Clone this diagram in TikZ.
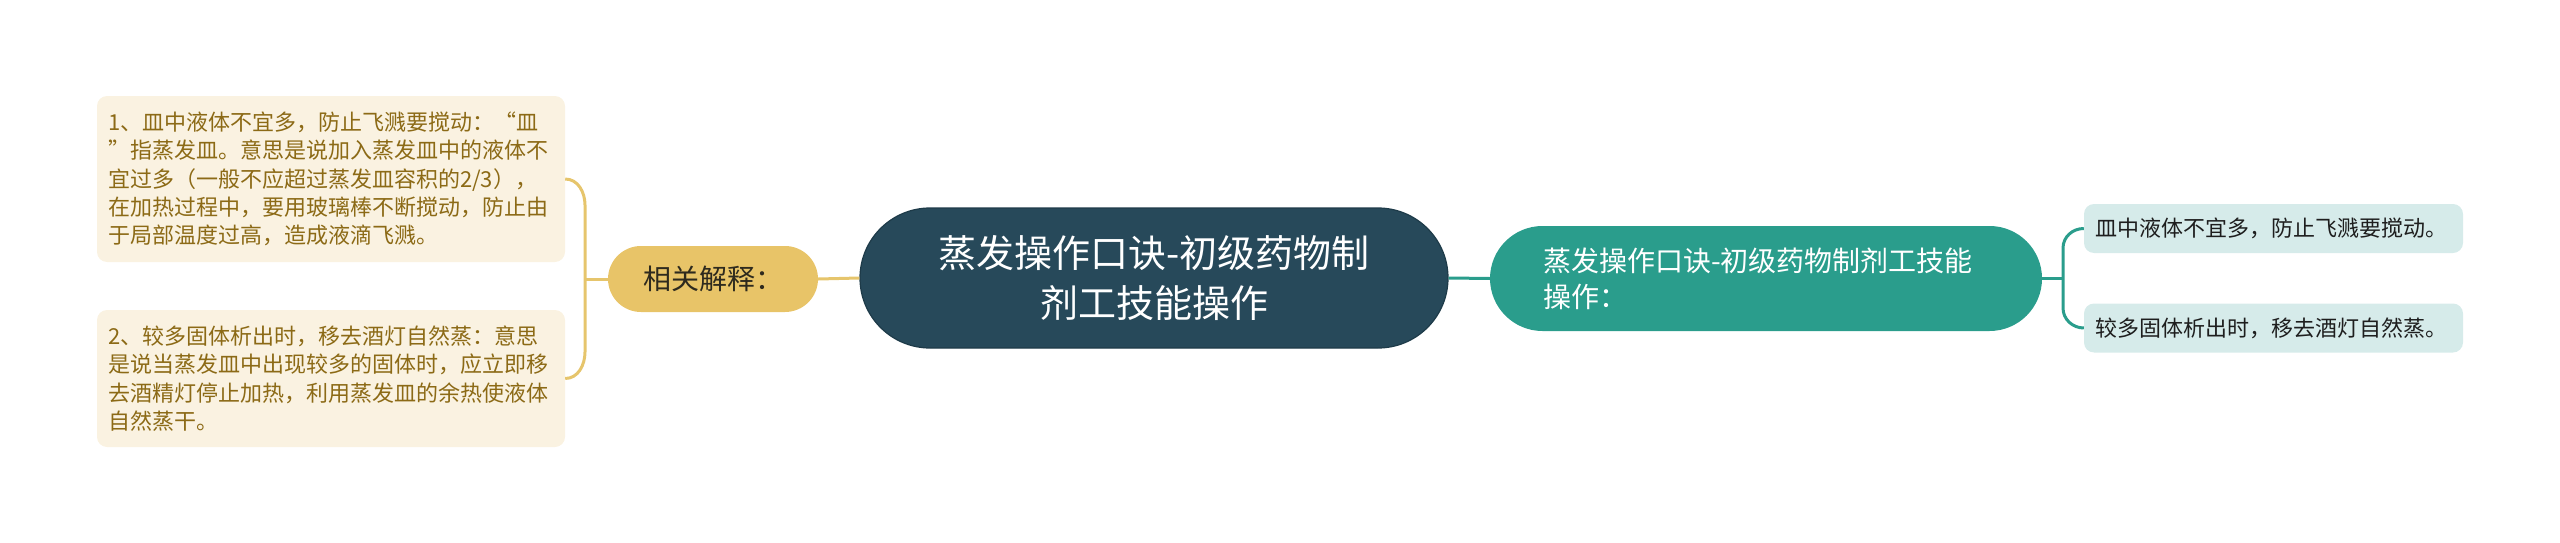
\documentclass[tikz,border=0pt]{standalone}
\usepackage{fontspec}
\newfontfamily\cjk{Noto Sans CJK SC}
\definecolor{creamfill}{HTML}{FAF2E1}
\definecolor{browntext}{HTML}{8C6A16}
\definecolor{goldline}{HTML}{E6C56C}
\definecolor{goldfill}{HTML}{E8C468}
\definecolor{goldtext}{HTML}{2E2A1E}
\definecolor{darkfill}{HTML}{27495A}
\definecolor{darkborder}{HTML}{1E3B49}
\definecolor{tealfill}{HTML}{2A9D8C}
\definecolor{lightteal}{HTML}{D6EBEA}
\definecolor{darktext}{HTML}{1E1E1E}
\tikzset{
  leftbox/.style={rectangle, rounded corners=10pt, fill=creamfill, text=browntext,
    inner xsep=11pt, inner ysep=0pt, text width=446pt, minimum width=468pt, align=left,
    font=\cjk\fontsize{22}{28.4}\selectfont},
  rightbox/.style={rectangle, rounded corners=10pt, fill=lightteal, text=darktext,
    inner xsep=11pt, inner ysep=0pt, text width=357pt, minimum width=379pt, minimum height=49pt, align=left,
    font=\cjk\fontsize{22}{28}\selectfont},
  goldconn/.style={draw=goldline, line width=3pt},
  tealconn/.style={draw=tealfill, line width=3pt},
}
\begin{document}
\begin{tikzpicture}[x=1pt,y=-1pt]
\useasboundingbox (0,0) rectangle (2560,543);
% central
\node[rectangle, rounded corners=70pt, fill=darkfill, draw=darkborder, line width=1.2pt,
  minimum width=588pt, minimum height=140pt, inner sep=0pt, text=white, align=center,
  font=\cjk\fontsize{38}{50}\selectfont] (root) at (1154,278)
  {蒸发操作口诀-初级药物制\\剂工技能操作};
% left branch
\node[rectangle, rounded corners=33pt, fill=goldfill, minimum width=210pt, minimum height=66pt,
  inner sep=0pt, text=goldtext, font=\cjk\fontsize{28}{34}\selectfont] (rel) at (713,279) {相关解释：};
\node[leftbox, minimum height=166pt] (b1) at (331,179)
  {1、皿中液体不宜多，防止飞溅要搅动：“皿\\”指蒸发皿。意思是说加入蒸发皿中的液体不\\宜过多（一般不应超过蒸发皿容积的2/3），\\在加热过程中，要用玻璃棒不断搅动，防止由\\于局部温度过高，造成液滴飞溅。};
\node[leftbox, minimum height=137pt] (b2) at (331,378.5)
  {2、较多固体析出时，移去酒灯自然蒸：意思\\是说当蒸发皿中出现较多的固体时，应立即移\\去酒精灯停止加热，利用蒸发皿的余热使液体\\自然蒸干。};
% right branch
\node[rectangle, rounded corners=52.5pt, fill=tealfill, minimum width=552pt, minimum height=105pt,
  inner xsep=53pt, inner ysep=0pt, text width=446pt, align=left, text=white,
  font=\cjk\fontsize{28}{36}\selectfont] (teal) at (1766,278.5)
  {蒸发操作口诀-初级药物制剂工技能\\操作：};
\node[rightbox] (r1) at (2273.5,228.5) {皿中液体不宜多，防止飞溅要搅动。};
\node[rightbox] (r2) at (2273.5,328) {较多固体析出时，移去酒灯自然蒸。};
% connectors
\coordinate (lj) at (585,279);
\coordinate (rj) at (2063,278.5);
\draw[goldconn] (root.west) -- (rel.east);
\draw[goldconn] (rel.west) -- (lj);
\draw[goldconn] (b1.east) to[out=0,in=90] (585,205) -- (585,352) to[out=-90,in=0] (b2.east);
\draw[tealconn] (root.east) -- (teal.west);
\draw[tealconn] (teal.east) -- (rj);
\draw[tealconn] (r1.west) to[out=180,in=90] (2063,248) -- (2063,308) to[out=-90,in=180] (r2.west);
\end{tikzpicture}
\end{document}
